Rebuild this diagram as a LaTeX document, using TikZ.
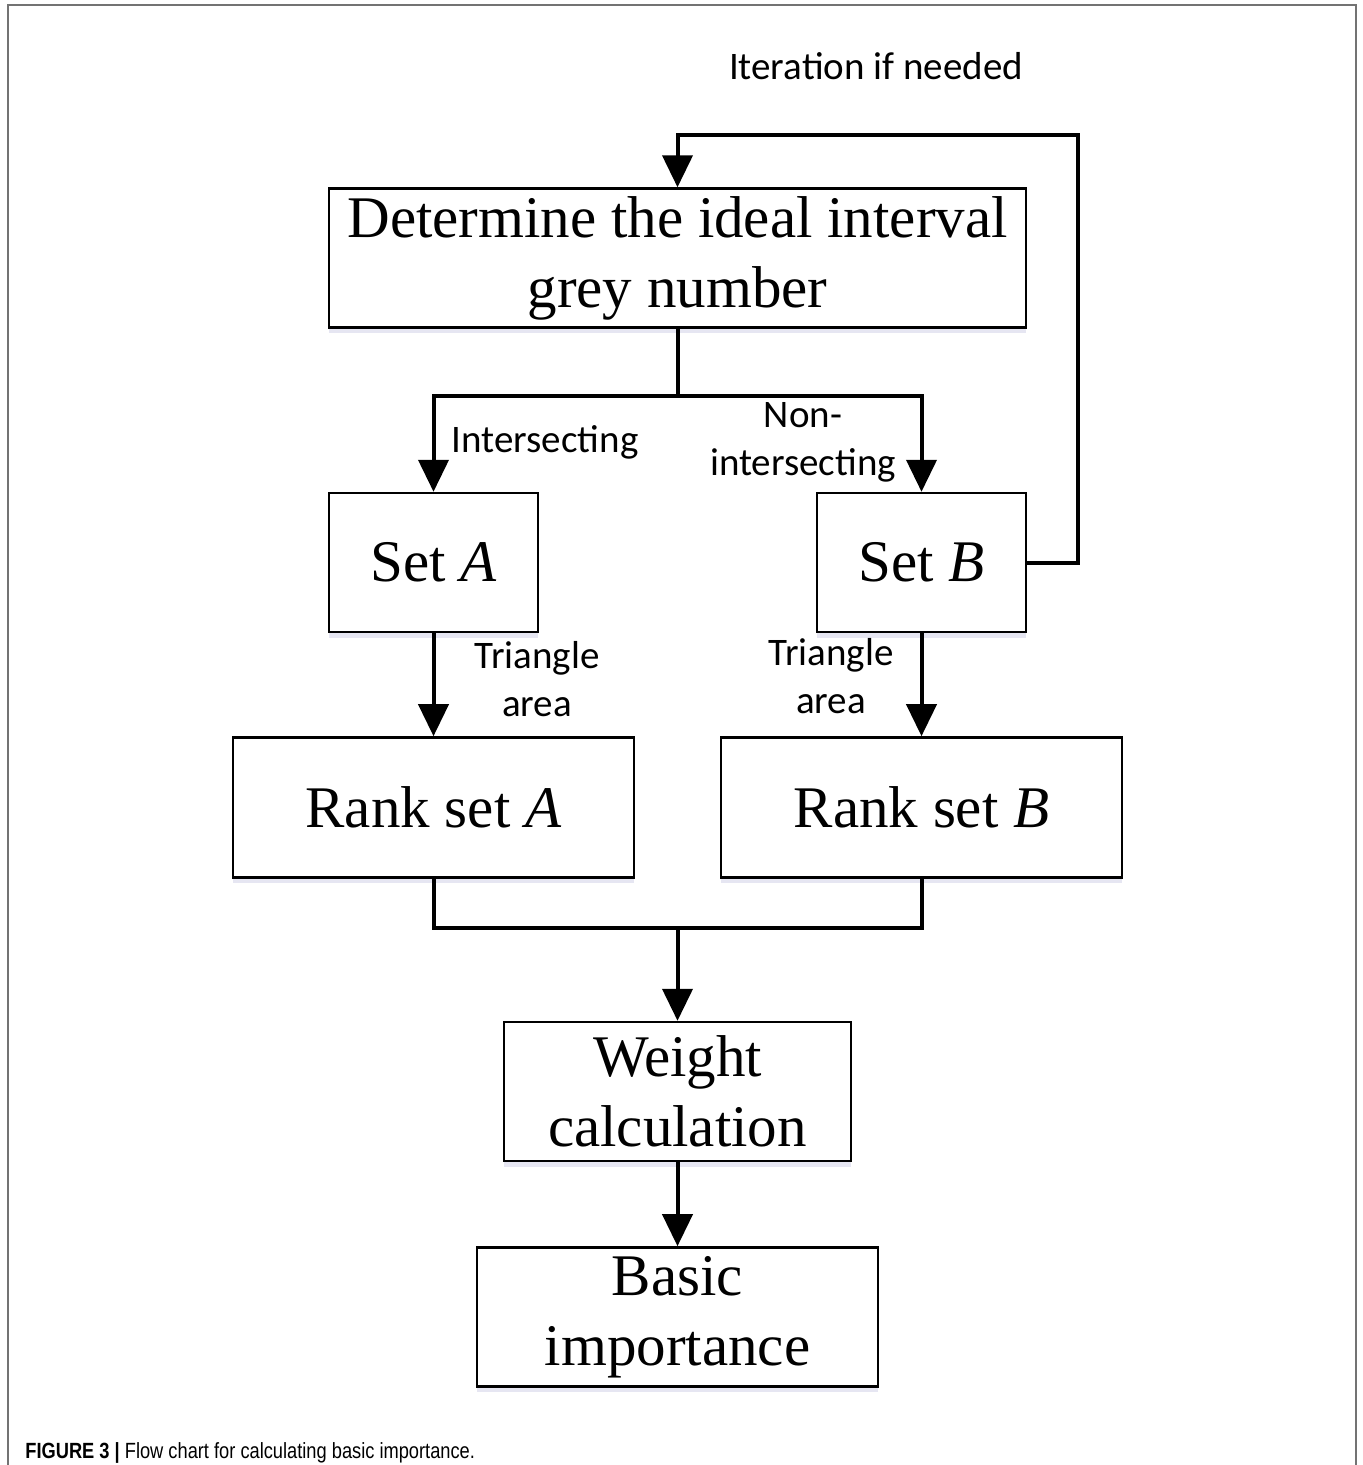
\documentclass[tikz,border=0pt]{standalone}
\usepackage{fontspec}
\setmainfont{Liberation Serif}
\newfontfamily\labelfont{Carlito}
\newfontfamily\capfont[FakeStretch=0.83]{Liberation Sans}
\usetikzlibrary{arrows.meta,positioning,shadows}

\begin{document}
\begin{tikzpicture}[
  x=0.5pt, y=-0.5pt,
  block/.style={rectangle, draw, line width=1.2pt, fill=white, align=center,
    inner sep=0pt, font=\fontsize{29.5}{35}\selectfont,
    drop shadow={shadow xshift=0pt, shadow yshift=-3pt, fill=blue!30!gray!25, opacity=0.6}},
  note/.style={align=center, inner sep=0pt, font=\labelfont\fontsize{19.5}{24}\selectfont},
  link/.style={line width=2pt, black},
  flow/.style={link, -{Triangle[width=15pt,length=16pt]}}
  ]
  \useasboundingbox (0,0) rectangle (1362,1465);
  \draw[line width=1pt, black!55] (8,1465) -- (8,5) -- (1356,5) -- (1356,1465);

  \node[block, minimum width=348.5pt, minimum height=69.5pt] (det) at (677.5,258)
    {Determine the ideal interval\\grey number};
  \node[block, minimum width=104.5pt, minimum height=69.5pt] (setA) at (433.5,562.5) {Set \textit{A}};
  \node[block, minimum width=104.5pt, minimum height=69.5pt] (setB) at (921.5,562.5) {Set \textit{B}};
  \node[block, minimum width=200.5pt, minimum height=70pt, below=51.5pt of setA] (rankA) {Rank set \textit{A}};
  \node[block, minimum width=200.5pt, minimum height=70pt, below=51.5pt of setB] (rankB) {Rank set \textit{B}};
  \node[block, minimum width=173.5pt, minimum height=69.5pt] (weight) at (677.5,1091.5)
    {Weight\\calculation};
  \node[block, minimum width=200.5pt, minimum height=69.5pt, below=42pt of weight] (basic)
    {Basic\\importance};

  % labels
  \node[note] (iter) at (876,66) {Iteration if needed};
  \node[note] (inter) at (545,442) {Intersecting};
  \node[note] (noninter) at (803,442) {Non-\\intersecting};
  \node[note] (triA) at (537,679) {Triangle\\area};
  \node[note] (triB) at (831,676) {Triangle\\area};

  \coordinate (split) at (677.5,396);
  \coordinate (merge) at (677.5,928);
  \coordinate (loop) at (1078,135);

  \draw[link] (det.south) -- (split);
  \draw[flow] (split) -| (setA.north);
  \draw[flow] (split) -| (setB.north);
  \draw[flow] (setA.south) -- (rankA.north);
  \draw[flow] (setB.south) -- (rankB.north);
  \draw[link] (rankA.south) |- (merge);
  \draw[link] (rankB.south) |- (merge);
  \draw[flow] (merge) -- (weight.north);
  \draw[flow] (weight.south) -- (basic.north);
  \draw[flow] (setB.east) -| (loop) -| (det.north);

  \node[anchor=base west, inner sep=0pt, font=\capfont\fontsize{11}{13}\selectfont] (cap) at (25,1458)
    {\textbf{FIGURE 3 |} Flow chart for calculating basic importance.};
\end{tikzpicture}
\end{document}
